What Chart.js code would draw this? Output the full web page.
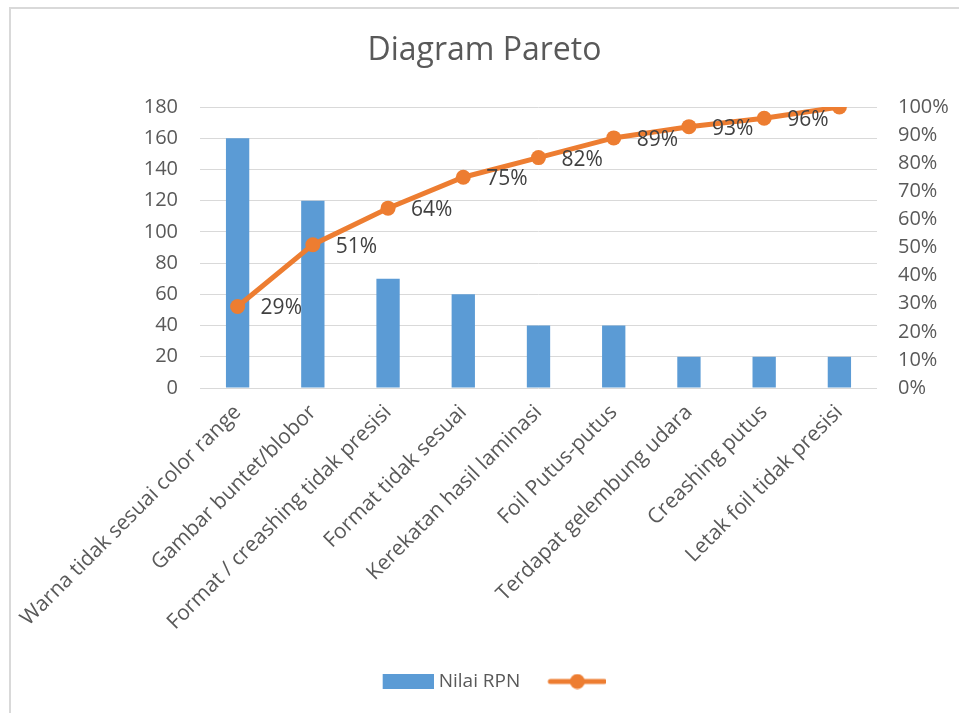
<!DOCTYPE html>
<html>
<head>
<meta charset="utf-8">
<script src="https://cdn.jsdelivr.net/npm/chart.js@4"></script>
<style>
  html, body { margin: 0; padding: 0; background: #fff; }
  #wrap { position: relative; width: 959px; height: 713px; overflow: hidden; }
  #frame { position: absolute; left: 9px; top: 7px; width: 960px; height: 720px;
           border-left: 2px solid #d9d9d9; border-top: 2px solid #d9d9d9; }
  canvas { position: absolute; left: 0; top: 0; }
</style>
</head>
<body>
<div id="wrap">
  <div id="frame"></div>
  <canvas id="c" width="959" height="713"></canvas>
</div>
<script>
const categories = [
  'Warna tidak sesuai color range',
  'Gambar buntet/blobor',
  'Format / creashing tidak presisi',
  'Format tidak sesuai',
  'Kerekatan hasil laminasi',
  'Foil Putus-putus',
  'Terdapat gelembung udara',
  'Creashing putus',
  'Letak foil tidak presisi'
];
const nilaiRPN = [160, 120, 70, 60, 40, 40, 20, 20, 20];
const cumulative = [0.29, 0.51, 0.64, 0.75, 0.82, 0.89, 0.93, 0.96, 1.00];
const cumulativeLabels = ['29%', '51%', '64%', '75%', '82%', '89%', '93%', '96%', ''];
const leftTicks = [0, 20, 40, 60, 80, 100, 120, 140, 160, 180];
const rightTicks = [0, 0.1, 0.2, 0.3, 0.4, 0.5, 0.6, 0.7, 0.8, 0.9, 1.0];

const BLUE = '#5B9BD5';
const ORANGE = '#ED7D31';
const TXT = '#595959';
const FONT = '"Open Sans", Lato, sans-serif';

// legend glyph images
function barGlyph() {
  const c = document.createElement('canvas');
  c.width = 65; c.height = 15;
  const g = c.getContext('2d');
  g.fillStyle = BLUE;
  g.fillRect(14, 0, 51, 15);
  return c;
}
function lineGlyph() {
  const c = document.createElement('canvas');
  c.width = 96; c.height = 16;
  const g = c.getContext('2d');
  g.strokeStyle = ORANGE; g.lineWidth = 5; g.lineCap = 'round';
  g.beginPath(); g.moveTo(40, 8); g.lineTo(94, 8); g.stroke();
  g.fillStyle = ORANGE;
  g.beginPath(); g.arc(67, 8, 7.5, 0, Math.PI * 2); g.fill();
  return c;
}
const barImg = barGlyph();
const lineImg = lineGlyph();

const dataLabelPlugin = {
  id: 'cumLabels',
  afterDatasetsDraw(chart) {
    const meta = chart.getDatasetMeta(1);
    const ctx = chart.ctx;
    ctx.save();
    ctx.font = '21px ' + FONT;
    ctx.fillStyle = '#404040';
    ctx.textAlign = 'left';
    ctx.textBaseline = 'middle';
    meta.data.forEach((pt, i) => {
      const t = cumulativeLabels[i];
      if (t) ctx.fillText(t, pt.x + 23, pt.y + 2);
    });
    ctx.restore();
  }
};

new Chart(document.getElementById('c'), {
  data: {
    labels: categories,
    datasets: [
      {
        type: 'bar',
        label: 'Nilai RPN',
        data: nilaiRPN,
        backgroundColor: BLUE,
        yAxisID: 'y',
        barPercentage: 0.31,
        categoryPercentage: 1.0,
        order: 2
      },
      {
        type: 'line',
        label: '',
        data: cumulative,
        borderColor: ORANGE,
        backgroundColor: ORANGE,
        borderWidth: 5,
        pointRadius: 7.5,
        pointBorderWidth: 0,
        pointBackgroundColor: ORANGE,
        tension: 0,
        yAxisID: 'y1',
        order: 1
      }
    ]
  },
  options: {
    responsive: false,
    animation: false,
    devicePixelRatio: 1,
    layout: { padding: { left: 10, right: 0, top: 0, bottom: 12 } },
    plugins: {
      tooltip: { enabled: false },
      title: {
        display: true,
        text: 'Diagram Pareto',
        color: TXT,
        font: { family: FONT, size: 32, weight: 'normal' },
        padding: { top: 32, bottom: 36.6 }
      },
      legend: {
        display: true,
        position: 'bottom',
        labels: {
          color: TXT,
          font: { family: FONT, size: 19 },
          usePointStyle: true,
          pointStyleWidth: 56,
          boxHeight: 15,
          padding: 10,
          generateLabels() {
            return [
              { text: 'Nilai RPN', pointStyle: barImg, fillStyle: BLUE, strokeStyle: BLUE, lineWidth: 0, datasetIndex: 0, fontColor: TXT },
              { text: '', pointStyle: lineImg, fillStyle: ORANGE, strokeStyle: ORANGE, lineWidth: 0, datasetIndex: 1, fontColor: TXT }
            ];
          }
        }
      }
    },
    scales: {
      x: {
        grid: { display: false },
        border: { display: false },
        ticks: {
          color: TXT,
          font: { family: FONT, size: 21 },
          autoSkip: false,
          maxRotation: 45,
          minRotation: 45,
          padding: 4
        },
        afterFit(s) { s.height = 274; }
      },
      y: {
        position: 'left',
        min: 0, max: 180,
        afterBuildTicks(s) { s.ticks = leftTicks.map(v => ({ value: v })); },
        grid: { color: '#d9d9d9', lineWidth: 1, drawTicks: false },
        border: { display: false },
        ticks: { color: TXT, font: { family: FONT, size: 20 }, padding: 22 },
        afterFit(s) { s.width = 190; }
      },
      y1: {
        position: 'right',
        min: 0, max: 1,
        afterBuildTicks(s) { s.ticks = rightTicks.map(v => ({ value: v })); },
        grid: { display: false, drawTicks: false },
        border: { display: false },
        ticks: {
          color: TXT, font: { family: FONT, size: 20 }, padding: 21,
          callback: v => Math.round(v * 100) + '%'
        },
        afterFit(s) { s.width = 82; }
      }
    }
  },
  plugins: [dataLabelPlugin]
});
</script>
</body>
</html>
